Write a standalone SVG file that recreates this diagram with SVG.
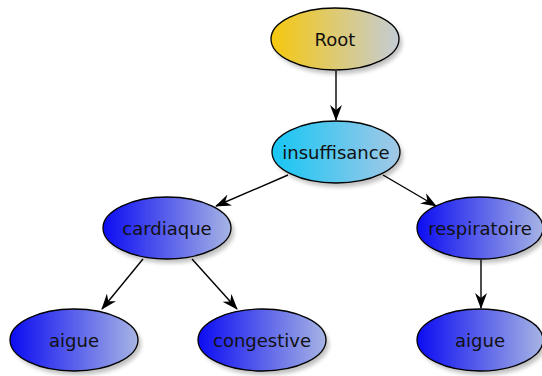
<svg xmlns="http://www.w3.org/2000/svg" width="542" height="376" viewBox="0 0 542 376">
<defs>
<linearGradient id="gRoot" x1="0" y1="0" x2="1" y2="0"><stop offset="0" stop-color="#f6c80e"/><stop offset="1" stop-color="#c4ccd6"/></linearGradient>
<linearGradient id="gCyan" x1="0" y1="0" x2="1" y2="0"><stop offset="0" stop-color="#16c6f4"/><stop offset="1" stop-color="#a4c8e6"/></linearGradient>
<linearGradient id="gBlue" x1="0" y1="0" x2="1" y2="0"><stop offset="0" stop-color="#0c0cf2"/><stop offset="1" stop-color="#a6b4e4"/></linearGradient>
<filter id="sh" x="-20%" y="-20%" width="140%" height="150%"><feGaussianBlur stdDeviation="2"/></filter>
<marker id="arr" viewBox="0 0 16 12" refX="15" refY="6" markerWidth="16" markerHeight="12" markerUnits="userSpaceOnUse" orient="auto"><path d="M0,0 L16,6 L0,12 L5,6 z" fill="#000"/></marker>
</defs>
<style>
.shadow{fill:#000;opacity:0.25;filter:url(#sh)}
.node{stroke:#000;stroke-width:1.3}
.lbl{font-family:"DejaVu Sans",sans-serif;font-size:18px;fill:#111;text-anchor:middle;dominant-baseline:central}
.edge{stroke:#000;stroke-width:1.4;fill:none;marker-end:url(#arr)}
</style>
<rect width="542" height="376" fill="#fff"/>
<g id="connectors">
<line class="edge" x1="336" y1="71" x2="336" y2="120"/>
<line class="edge" x1="288" y1="175" x2="216" y2="206"/>
<line class="edge" x1="383" y1="175" x2="436" y2="206"/>
<line class="edge" x1="143" y1="259" x2="102" y2="309"/>
<line class="edge" x1="192" y1="259" x2="237" y2="309"/>
<line class="edge" x1="481" y1="260" x2="481" y2="308"/>
</g>
<g id="root">
<ellipse class="shadow" cx="338" cy="43" rx="64" ry="31"/>
<ellipse class="node" cx="335" cy="39" rx="64" ry="31" fill="url(#gRoot)"/>
<text class="lbl" x="335" y="39">Root</text>
</g>
<g id="insuffisance">
<ellipse class="shadow" cx="339" cy="156" rx="64" ry="31"/>
<ellipse class="node" cx="336" cy="152" rx="64" ry="31" fill="url(#gCyan)"/>
<text class="lbl" x="336" y="152">insuffisance</text>
</g>
<g id="cardiaque">
<ellipse class="shadow" cx="170" cy="232" rx="64" ry="31"/>
<ellipse class="node" cx="167" cy="228" rx="64" ry="31" fill="url(#gBlue)"/>
<text class="lbl" x="167" y="228">cardiaque</text>
</g>
<g id="respiratoire">
<ellipse class="shadow" cx="483" cy="232" rx="63" ry="31"/>
<ellipse class="node" cx="480" cy="228" rx="63" ry="31" fill="url(#gBlue)"/>
<text class="lbl" x="480" y="228">respiratoire</text>
</g>
<g id="aigue1">
<ellipse class="shadow" cx="77" cy="344" rx="64" ry="31"/>
<ellipse class="node" cx="74" cy="340" rx="64" ry="31" fill="url(#gBlue)"/>
<text class="lbl" x="74" y="340">aigue</text>
</g>
<g id="congestive">
<ellipse class="shadow" cx="265" cy="344" rx="64" ry="31"/>
<ellipse class="node" cx="262" cy="340" rx="64" ry="31" fill="url(#gBlue)"/>
<text class="lbl" x="262" y="340">congestive</text>
</g>
<g id="aigue2">
<ellipse class="shadow" cx="483" cy="344" rx="63" ry="31"/>
<ellipse class="node" cx="480" cy="340" rx="63" ry="31" fill="url(#gBlue)"/>
<text class="lbl" x="480" y="340">aigue</text>
</g>
</svg>
